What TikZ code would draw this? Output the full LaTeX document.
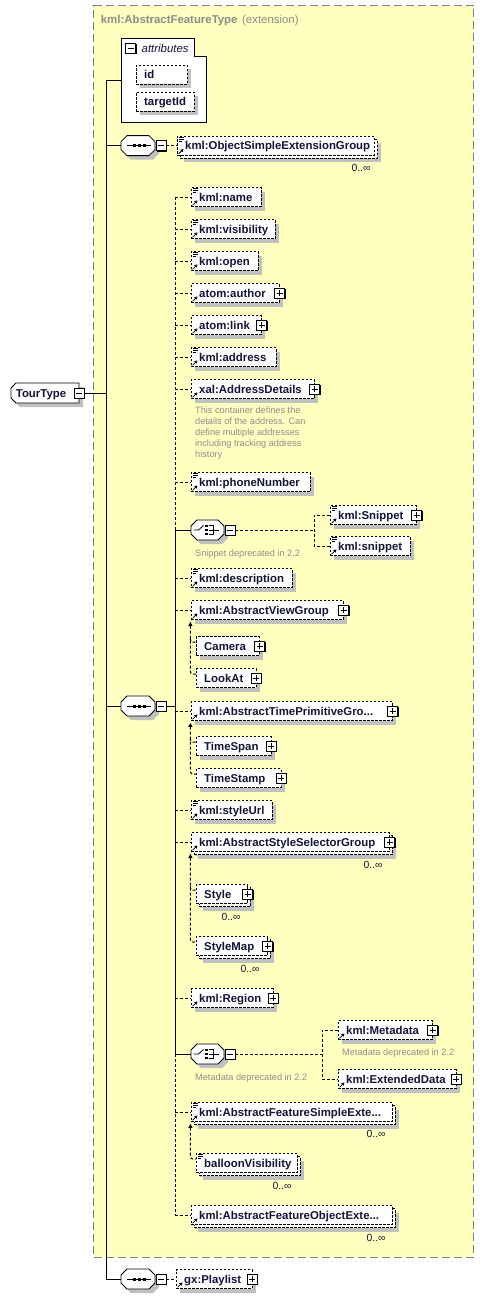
\documentclass[tikz,border=0pt]{standalone}
\usepackage{fontspec}
\setmainfont{Liberation Sans}
\usetikzlibrary{calc,shadows,arrows.meta}
\definecolor{bgy}{HTML}{FFFFC0}
\definecolor{shc}{HTML}{C0C0C0}
\definecolor{docc}{HTML}{8F8F8F}
\definecolor{ttlc}{HTML}{8C8C8C}
\definecolor{bordc}{HTML}{808080}
\definecolor{txtc}{HTML}{14143A}
\newcommand\elfont{\fontsize{11.4}{13}\selectfont\bfseries}
\newcommand\docfont{\fontsize{9.2}{11}\selectfont}
\newcommand\occfont{\fontsize{10.4}{12}\selectfont}
\tikzset{
 conn/.style={line width=1pt, black},
 dconn/.style={conn, dash pattern=on 3pt off 2pt},
 elem/.style={draw=black, fill=white, line width=0.8pt, dash pattern=on 2.5pt off 1.5pt,
   minimum height=19, inner sep=0,
   drop shadow={shadow xshift=4pt, shadow yshift=-4pt, fill=shc, opacity=1}},
 unb/.style={drop shadow={shadow xshift=7pt, shadow yshift=-7pt, fill=shc, opacity=1},
   general shadow={shadow xshift=3pt, shadow yshift=-3pt, fill=white, draw=black,
   line width=0.8pt, dash pattern=on 2.5pt off 1.5pt}},
 eltext/.style={anchor=base west, inner sep=0, font=\elfont, text=txtc},
 pm/.style={draw=black, fill=white, line width=0.8pt, minimum size=10, inner sep=0,
   drop shadow={shadow xshift=1pt, shadow yshift=-1pt, fill=black, opacity=1}},
 pmline/.style={line width=0.9pt, black},
 icon/.style={line width=0.8pt, black},
 doc/.style={anchor=north west, inner sep=0, font=\docfont, text=docc, align=left},
 occ/.style={inner sep=0, font=\occfont, text=txtc},
 sym/.style={draw=black, fill=white, line width=0.8pt},
 bgbox/.style={draw=bordc, fill=bgy, line width=1pt, dash pattern=on 8pt off 4pt, inner sep=0},
 ghost/.style={inner sep=0},
 subst/.style={dconn, rounded corners=2.5pt},
 tip/.style={{Triangle[length=4pt,width=4pt]}-},
}
% element box: name, left x, centre y, width, text, extra style
\newcommand\El[6]{%
 \node[elem,#6,minimum width=#4,anchor=west] (#1) at (#2,#3) {};
 \node[eltext] (#1-t) at (#2+8,#3+4) {#5};}
\newcommand\Simp[1]{\draw[icon] ($(#1.north west)+(1.5,1.6)$) -- +(5,0)
  ($(#1.north west)+(1.5,3.6)$) -- +(5,0) ($(#1.north west)+(1.5,5.6)$) -- +(3.5,0);}
\newcommand\Refa[1]{\draw[icon,-{Triangle[length=3pt,width=3.2pt]}]
  ($(#1.south west)+(1.6,-1.6)$) -- ($(#1.south west)+(6.5,-6.5)$);}
\newcommand\Plus[1]{\node[pm] (#1-p) at (#1.east) {};
  \draw[pmline] ($(#1-p.center)+(-3,0)$) -- +(6,0) ($(#1-p.center)+(0,-3)$) -- +(0,6);}
\newcommand\Minus[2]{\node[pm] (#1) at #2 {};
  \draw[pmline] ($(#1.center)+(-3,0)$) -- +(6,0);}
% octagon: name, x, cy, w
\newcommand\Octo[4]{%
 \node[ghost,minimum width=#4,minimum height=20,anchor=west] (#1) at (#2,#3) {};
 \begin{scope}[shift={(#2+4,#3+4)}]
  \fill[shc] (0,-4) -- (6,-10) -- (#4-6,-10) -- (#4,-4) -- (#4,4) -- (#4-6,10) -- (6,10) -- (0,4) -- cycle;
 \end{scope}
 \begin{scope}[shift={(#2,#3)}]
  \draw[sym] (0,-4) -- (6,-10) -- (#4-6,-10) -- (#4,-4) -- (#4,4) -- (#4-6,10) -- (6,10) -- (0,4) -- cycle;
 \end{scope}}
\newcommand\SeqSym[2]{% x cy
 \begin{scope}[shift={(#1,#2)}]
  \draw[icon] (6,0) -- (30,0);
  \foreach \dx in {13,18,23}{\fill (\dx-1.5,-1.5) rectangle +(3,3);}
 \end{scope}}
\newcommand\ChSym[2]{% x cy
 \begin{scope}[shift={(#1,#2)}]
  \draw[icon] (2.5,0) -- (7.5,0) -- (12.5,-4.5);
  \foreach \dy in {-4,0,4}{\fill (14,\dy-1.2) rectangle +(2.6,2.4);}
  \draw[icon] (18,-4.5) -- (22.5,-4.5) -- (22.5,4.5) -- (18,4.5) (18,0) -- (28,0);
 \end{scope}}

\begin{document}
\begin{tikzpicture}[x=1pt,y=-1pt]
\path[use as bounding box] (0,0) rectangle (484,1299);

% extension background
\node[bgbox, minimum width=380, minimum height=1251.7, anchor=north west] (ext) at (93.3,5) {};
\node[anchor=base west, inner sep=0, font=\elfont, text=ttlc] (title) at (100.7,23.4)
  {kml:AbstractFeatureType\hspace{1.5pt} \mdseries(extension)};

% attributes
\node[ghost, minimum width=84.7, minimum height=84, anchor=north west] (attr) at (121,38.3) {};
\draw[line width=0.8pt, fill=white] (attr.north west) -- ($(attr.north west)+(73.3,0)$)
  -- ($(attr.north west)+(73.3,17.7)$) -- ($(attr.north east)+(0,17.7)$)
  -- (attr.south east) -- (attr.south west) -- cycle;
\Minus{attr-m}{(130.7,48)}
\node[anchor=base west, inner sep=0, font=\fontsize{11.4}{13}\selectfont\itshape, text=txtc]
  (attr-t) at (141.5,52.3) {attributes};
\El{id}{136}{74.5}{51}{id}{}
\El{tid}{136}{101.5}{58}{targetId}{}

% root
\node[ghost, minimum width=68, minimum height=20, anchor=west] (tt) at (11,393) {};
\fill[shc] (15,392) -- (20,387) -- (83,387) -- (83,407) -- (20,407) -- (15,402) -- cycle;
\draw[sym] (11,388) -- (16,383) -- (79,383) -- (79,403) -- (16,403) -- (11,398) -- cycle;
\node[eltext] (tt-t) at (15.7,397.2) {TourType};
\Minus{tt-m}{(tt.east)}

% compositors
\Octo{seq1}{121}{145.6}{34} \SeqSym{121}{145.6} \Minus{seq1-m}{($(seq1.east)+(5.5,0)$)}
\Octo{seq2}{121}{706}{34}   \SeqSym{121}{706}   \Minus{seq2-m}{($(seq2.east)+(5.5,0)$)}
\Octo{seq3}{121}{1279}{34}  \SeqSym{121}{1279}  \Minus{seq3-m}{($(seq3.east)+(5.5,0)$)}
\Octo{ch1}{191}{530}{33}    \ChSym{191}{530}    \Minus{ch1-m}{($(ch1.east)+(5.5,0)$)}
\Octo{ch2}{191}{1054}{33}   \ChSym{191}{1054}   \Minus{ch2-m}{($(ch2.east)+(5.5,0)$)}

% elements
\El{osg}{177}{145.6}{197}{kml:ObjectSimpleExtensionGroup}{unb} \Simp{osg}\Refa{osg}
\El{name}{191}{197}{70}{kml:name}{} \Simp{name}\Refa{name}
\El{vis}{191}{229}{84}{kml:visibility}{} \Simp{vis}\Refa{vis}
\El{open}{191}{261}{67}{kml:open}{} \Simp{open}\Refa{open}
\El{author}{191}{293}{88}{atom:author}{} \Refa{author}\Plus{author}
\El{link}{191}{325}{70}{atom:link}{} \Refa{link}\Plus{link}
\El{address}{191}{357}{85}{kml:address}{} \Simp{address}\Refa{address}
\El{addrdet}{191}{389}{123}{xal:AddressDetails}{} \Refa{addrdet}\Plus{addrdet}
\node[doc] (addrdoc) at (195,407) {This container defines the\\details of the address. Can\\define multiple addresses\\including tracking address\\history};
\El{phone}{191}{482}{119}{kml:phoneNumber}{} \Simp{phone}\Refa{phone}
\El{Snip}{330}{515}{86}{kml:Snippet}{} \Simp{Snip}\Refa{Snip}\Plus{Snip}
\El{snip}{330}{546}{80}{kml:snippet}{} \Simp{snip}\Refa{snip}
\node[doc] (ch1doc) at (195,549.3) {Snippet deprecated in 2.2};
\El{descr}{191}{578}{101}{kml:description}{} \Simp{descr}\Refa{descr}
\El{viewgrp}{191}{610}{152}{kml:AbstractViewGroup}{} \Refa{viewgrp}\Plus{viewgrp}
\El{camera}{196}{646}{62.7}{Camera}{} \Plus{camera}
\El{lookat}{196}{678}{59.5}{LookAt}{} \Plus{lookat}
\El{timeprim}{191}{711}{201}{kml:AbstractTimePrimitiveGro...}{} \Refa{timeprim}\Plus{timeprim}
\El{timespan}{196}{746}{74.5}{TimeSpan}{} \Plus{timespan}
\El{timestamp}{196}{778}{84.5}{TimeStamp}{} \Plus{timestamp}
\El{styleurl}{191}{810}{81}{kml:styleUrl}{} \Simp{styleurl}\Refa{styleurl}
\El{stylesel}{191}{842}{198}{kml:AbstractStyleSelectorGroup}{unb} \Refa{stylesel}\Plus{stylesel}
\node[occ] (stylesel-o) at (373,865) {0..∞};
\El{style}{196}{894}{51}{Style}{unb} \Plus{style}
\node[occ] (style-o) at (231,916.5) {0..∞};
\El{stylemap}{196}{946}{71}{StyleMap}{unb} \Plus{stylemap}
\node[occ] (stylemap-o) at (250,969) {0..∞};
\El{region}{191}{998}{81.5}{kml:Region}{} \Refa{region}\Plus{region}
\El{metadata}{338}{1030}{94}{kml:Metadata}{} \Refa{metadata}\Plus{metadata}
\node[doc] (metadoc) at (342,1048.3) {Metadata deprecated in 2.2};
\El{extdata}{338}{1079}{117.5}{kml:ExtendedData}{} \Refa{extdata}\Plus{extdata}
\node[doc] (ch2doc) at (195,1073.3) {Metadata deprecated in 2.2};
\El{featsimple}{191}{1112}{201}{kml:AbstractFeatureSimpleExte...}{unb} \Simp{featsimple}\Refa{featsimple}
\node[occ] (featsimple-o) at (376,1134) {0..∞};
\El{balloon}{196}{1163}{101}{balloonVisibility}{unb} \Simp{balloon}
\node[occ] (balloon-o) at (282,1186) {0..∞};
\El{featobj}{191}{1215}{201}{kml:AbstractFeatureObjectExte...}{unb} \Refa{featobj}
\node[occ] (featobj-o) at (376,1238.3) {0..∞};
\El{playlist}{176}{1279}{75.5}{gx:Playlist}{} \Refa{playlist}\Plus{playlist}
\node[occ] (osg-o) at (361,167.5) {0..∞};

% trunk
\coordinate (trunk) at (106,0);
\draw[conn] (trunk |- attr.west) -- (trunk |- seq3.west);
\draw[conn] (tt-m.east) -- (trunk |- tt-m.east);
\foreach \nm in {attr,seq1,seq2,seq3} \draw[conn] (trunk |- \nm.west) -- (\nm.west);
\draw[dconn] (seq1-m.east) -- (osg.west);
\draw[dconn] (seq3-m.east) -- (playlist.west);

% sequence bus
\coordinate (bus) at (175,0);
\draw[conn] (seq2-m.east) -- (bus |- seq2-m.east);
\draw[dconn] (bus |- name.west) -- (bus |- ch1.west);
\draw[conn] (bus |- ch1.west) -- (bus |- ch2.west);
\draw[dconn] (bus |- ch2.west) -- (bus |- featobj.west);
\foreach \nm in {name,vis,open,author,link,address,addrdet,phone,descr,viewgrp,timeprim,styleurl,stylesel,region,featsimple,featobj}
  \draw[dconn] (bus |- \nm.west) -- (\nm.west);
\draw[conn] (bus |- ch1.west) -- (ch1.west);
\draw[conn] (bus |- ch2.west) -- (ch2.west);

% choices
\coordinate (cb1) at (314,0);
\draw[dconn] (ch1-m.east) -- (cb1 |- ch1-m.east);
\draw[dconn] (Snip.west) -- (cb1 |- Snip.west) -- (cb1 |- snip.west) -- (snip.west);
\coordinate (cb2) at (322,0);
\draw[dconn] (ch2-m.east) -- (cb2 |- ch2-m.east);
\draw[dconn] (metadata.west) -- (cb2 |- metadata.west) -- (cb2 |- extdata.west) -- (extdata.west);

% substitution groups
\draw[subst,tip] ($(viewgrp.south west)+(-0.6,2)$) |- ($(lookat.north west)+(0,6)$);
\draw[subst] ($(camera.north west)+(-5.6,2)$) |- ($(camera.north west)+(0,6)$);
\draw[subst,tip] ($(timeprim.south west)+(-0.6,2)$) |- ($(timestamp.north west)+(0,6)$);
\draw[subst] ($(timespan.north west)+(-5.6,2)$) |- ($(timespan.north west)+(0,6)$);
\draw[subst,tip] ($(stylesel.south west)+(-0.6,2)$) |- ($(stylemap.north west)+(0,6)$);
\draw[subst] ($(style.north west)+(-5.6,2)$) |- ($(style.north west)+(0,6)$);
\draw[subst,tip] ($(featsimple.south west)+(-0.6,2)$) |- ($(balloon.north west)+(0,6)$);
\end{tikzpicture}
\end{document}
